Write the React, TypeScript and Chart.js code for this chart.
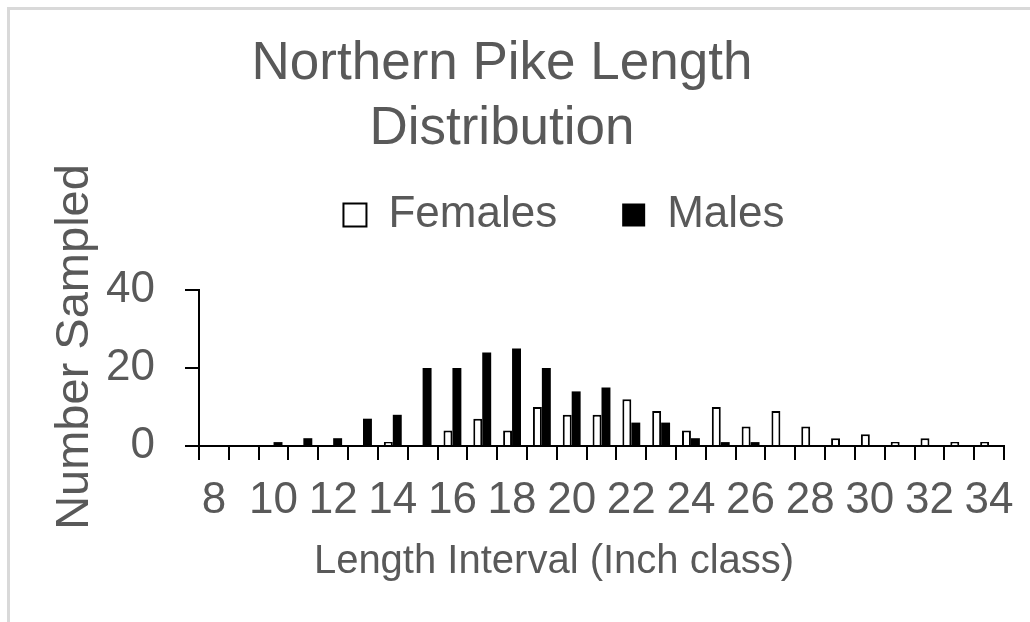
import React, { useEffect, useRef } from 'react';
import { Chart, registerables } from 'chart.js';

Chart.register(...registerables);

const CATEGORIES = ['8', '9', '10', '11', '12', '13', '14', '15', '16', '17', '18', '19', '20', '21', '22', '23', '24', '25', '26', '27', '28', '29', '30', '31', '32', '33', '34'];
const FEMALES = [0, 0, 0, 0, 0, 0, 1, 0, 4, 7, 4, 10, 8, 8, 12, 9, 4, 10, 5, 9, 5, 2, 3, 1, 2, 1, 1];
const MALES = [0, 0, 1, 2, 2, 7, 8, 20, 20, 24, 25, 20, 14, 15, 6, 6, 2, 1, 1, 0, 0, 0, 0, 0, 0, 0, 0];
const TITLE_LINES = ['Northern Pike Length', 'Distribution'];
const X_TITLE = 'Length Interval (Inch class)';
const Y_TITLE = 'Number Sampled';
const Y_MAX = 40;
const Y_STEP = 20;

const FONT = '"Liberation Sans", Arial, sans-serif';
const TEXT = '#595959';

const layoutTweaks = {
  id: 'layoutTweaks',
  afterLayout(chart: any) {
    const lg = chart.legend;
    if (lg) {
      lg.left += 62;
      lg.right += 62;
      lg.top -= 43;
      lg.bottom -= 43;
    }
  },
  afterDraw(chart: any) {
    const ctx = chart.ctx;
    ctx.save();
    ctx.fillStyle = TEXT;
    ctx.textAlign = 'center';
    ctx.textBaseline = 'middle';
    ctx.font = `40px ${FONT}`;
    ctx.fillText(X_TITLE, 554, 562);
    ctx.translate(75, 347);
    ctx.rotate(-Math.PI / 2);
    ctx.font = `47px ${FONT}`;
    ctx.fillText(Y_TITLE, 0, 0);
    ctx.restore();
  },
};

export default function App() {
  const ref = useRef<HTMLCanvasElement>(null);
  useEffect(() => {
    if (!ref.current) return;
    const chart = new Chart(ref.current, {
      type: 'bar',
      data: {
        labels: CATEGORIES,
        datasets: [
          {
            label: 'Females',
            data: FEMALES,
            backgroundColor: '#ffffff',
            borderColor: '#000000',
            borderWidth: 2,
            categoryPercentage: 0.6,
            barPercentage: 1.0,
          },
          {
            label: 'Males',
            data: MALES,
            backgroundColor: '#000000',
            borderColor: '#000000',
            borderWidth: 0,
            categoryPercentage: 0.6,
            barPercentage: 1.0,
          },
        ],
      },
      options: {
        responsive: false,
        animation: false,
        layout: { padding: { top: 0, left: 0, right: 26, bottom: 0 } },
        plugins: {
          title: {
            display: true,
            text: TITLE_LINES,
            color: TEXT,
            font: { family: FONT, size: 53, weight: 'normal', lineHeight: 65 / 53 },
            padding: { top: 32, bottom: 9 },
          },
          legend: {
            display: true,
            position: 'top',
            labels: {
              color: TEXT,
              font: { family: FONT, size: 44 },
              boxWidth: 23,
              boxHeight: 23,
              padding: 65,
            },
          },
          tooltip: { enabled: false },
        },
        scales: {
          x: {
            afterFit(s: any) { s.height = 176; },
            grid: { display: true, drawOnChartArea: false, drawTicks: true, tickLength: 14, color: '#000000', lineWidth: 2, offset: true },
            border: { display: true, color: '#000000', width: 2 },
            ticks: {
              autoSkip: false,
              maxRotation: 0,
              minRotation: 0,
              padding: 14,
              color: TEXT,
              font: { family: FONT, size: 44 },
              callback: (_v: any, i: number) => (i % 2 === 0 ? CATEGORIES[i] : ''),
            },
          },
          y: {
            min: 0,
            max: Y_MAX,
            afterFit(s: any) { s.width = 199; },
            grid: { display: true, drawOnChartArea: false, drawTicks: true, tickLength: 14, color: '#000000', lineWidth: 2 },
            border: { display: true, color: '#000000', width: 2 },
            ticks: { stepSize: Y_STEP, padding: 30, color: TEXT, font: { family: FONT, size: 44 } },
          },
        },
      },
      plugins: [layoutTweaks],
    } as any);
    return () => chart.destroy();
  }, []);

  return (
    <div style={{ position: 'fixed', left: 0, top: 0, width: 1030, height: 622, background: '#ffffff', overflow: 'hidden' }}>
      <div style={{ position: 'absolute', left: 7, top: 7, right: 0, bottom: 0, borderTop: '3px solid #d9d9d9', borderLeft: '3px solid #d9d9d9' }} />
      <canvas ref={ref} width={1030} height={622} style={{ position: 'absolute', left: 0, top: 0 }} />
    </div>
  );
}
